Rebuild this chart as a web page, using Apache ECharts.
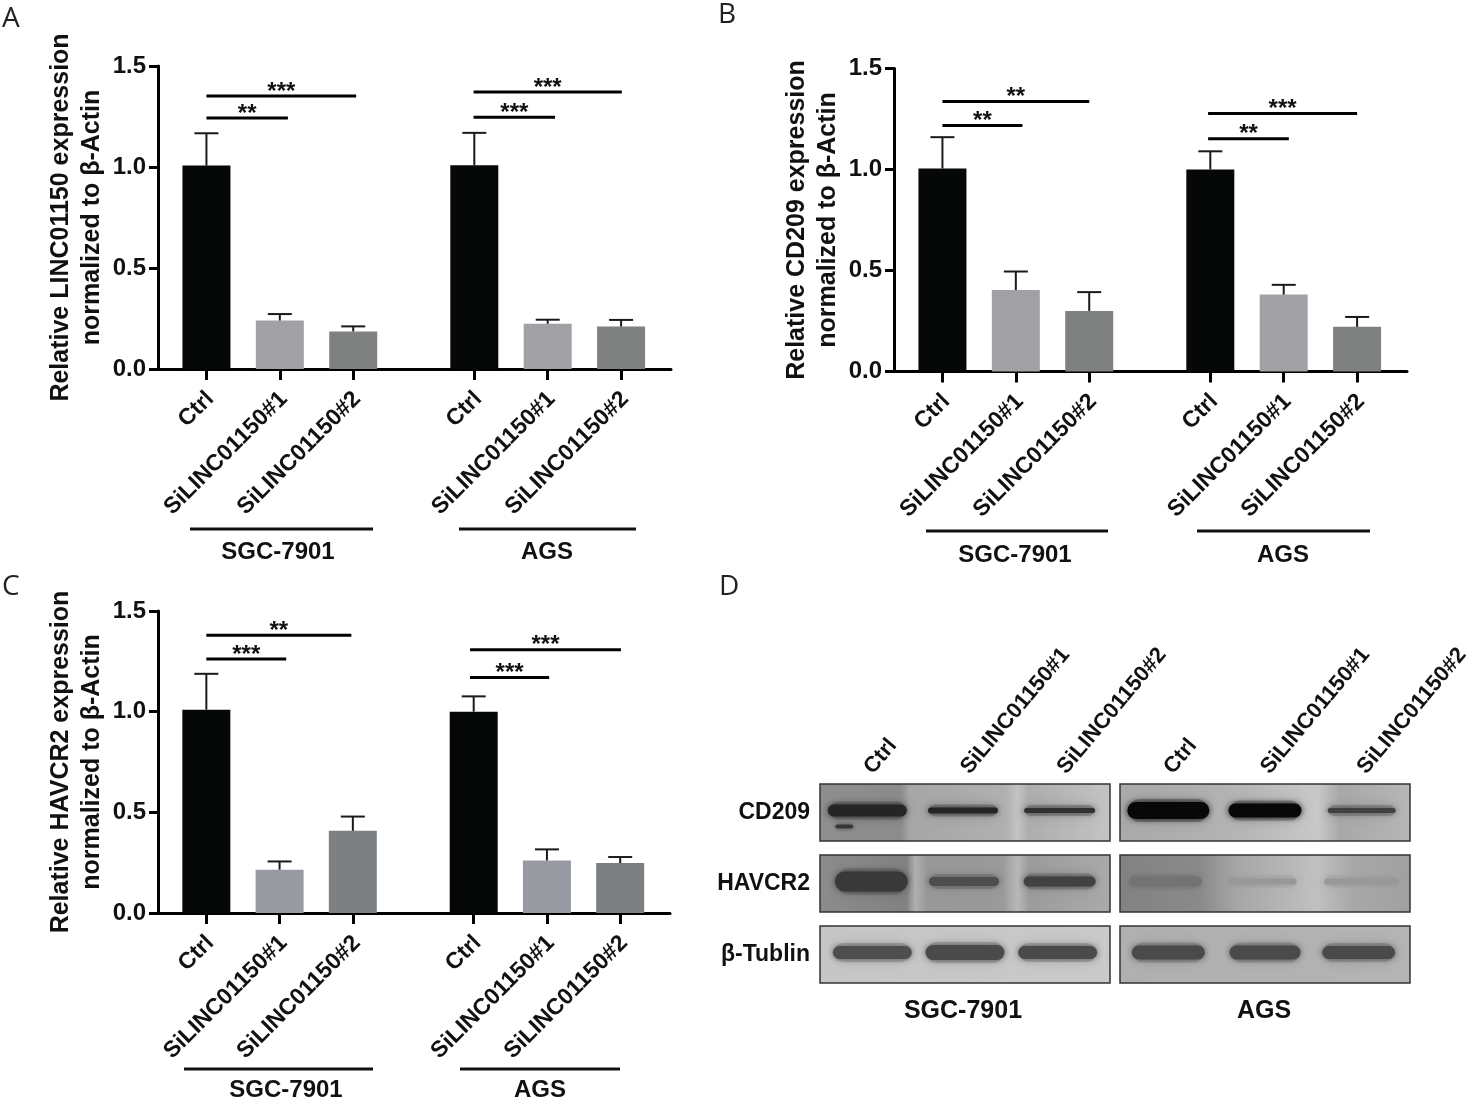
<!DOCTYPE html>
<html>
<head>
<meta charset="utf-8">
<title>LINC01150 knockdown</title>
<style>
  html, body { margin: 0; padding: 0; background: #fff; }
  #chart { width: 1468px; height: 1099px; }
</style>
<script src="https://cdn.jsdelivr.net/npm/echarts@6/dist/echarts.min.js"></script>
</head>
<body>
<div id="chart"></div>
<script>
// data
const barLabels = ['Ctrl', 'SiLINC01150#1', 'SiLINC01150#2', 'Ctrl', 'SiLINC01150#1', 'SiLINC01150#2']
const barSlots = [0, 1, 2, 3.65, 4.65, 5.65]
const yTicks = [0, 0.5, 1, 1.5]

const linc01150Mean = [1.007, 0.24, 0.186, 1.009, 0.224, 0.21]
const linc01150Upper = [1.167, 0.272, 0.211, 1.169, 0.244, 0.243]
const cd209Mean = [1.005, 0.403, 0.3, 1.0, 0.381, 0.221]
const cd209Upper = [1.16, 0.495, 0.393, 1.09, 0.429, 0.27]
const havcr2Mean = [1.01, 0.215, 0.408, 1.0, 0.261, 0.248]
const havcr2Upper = [1.188, 0.256, 0.479, 1.076, 0.316, 0.278]

// from slot, to slot, height, stars
const linc01150Sig = [[0, 1.11, 1.243, '**'], [0, 2.04, 1.351, '***'], [3.64, 4.75, 1.246, '***'], [3.64, 5.66, 1.371, '***']]
const cd209Sig = [[0, 1.09, 1.218, '**'], [0, 2.0, 1.337, '**'], [3.62, 4.72, 1.152, '**'], [3.62, 5.65, 1.277, '***']]
const havcr2Sig = [[0, 1.09, 1.261, '***'], [0, 1.98, 1.38, '**'], [3.6, 4.68, 1.17, '***'], [3.6, 5.66, 1.307, '***']]

// western blot, band darkness 0..1 per lane
const blotLanes = ['Ctrl', 'SiLINC01150#1', 'SiLINC01150#2']
const cd209Sgc = [0.86, 0.86, 0.8]
const cd209Ags = [1, 1, 0.72]
const havcr2Sgc = [0.76, 0.66, 0.72]
const havcr2Ags = [0.48, 0.3, 0.3]
const tublinSgc = [0.66, 0.68, 0.68]
const tublinAgs = [0.68, 0.68, 0.68]

const FONT = '"Liberation Sans", Arial, sans-serif'
const X_MIN = -0.66
const X_MAX = 6.33

const panels = [
  { name: 'Relative LINC01150 expression\nnormalized to β-Actin', mean: linc01150Mean, upper: linc01150Upper, sig: linc01150Sig,
    left: 158, top: 66, width: 513, height: 303, colors: ['#060808', '#a1a0a4', '#7f8080'] },
  { name: 'Relative CD209 expression\nnormalized to β-Actin', mean: cd209Mean, upper: cd209Upper, sig: cd209Sig,
    left: 894, top: 68.5, width: 513, height: 303, colors: ['#060808', '#a1a0a4', '#7f8080'] },
  { name: 'Relative HAVCR2 expression\nnormalized to β-Actin', mean: havcr2Mean, upper: havcr2Upper, sig: havcr2Sig,
    left: 158, top: 611, width: 512, height: 302, colors: ['#060808', '#989aa2', '#7d8083'] }
]

const hStops = (list) => ({
  type: 'linear', x: 0, y: 0, x2: 1, y2: 0,
  colorStops: list.map(s => ({ offset: s[0], color: s[1] }))
})

const blots = [
  { row: 'CD209', values: cd209Sgc, left: 820, top: 784, width: 290, height: 57, widths: [81, 72, 73], thick: [12, 6, 5], shift: [-1, -2, -2], smudge: true, showRow: true, showLanes: true,
    bg: [[0, '#8f8f8f'], [0.28, '#8c8c8c'], [0.31, '#a6a6a6'], [0.64, '#b0b0b0'], [0.68, '#c2c2c2'], [0.72, '#adadad'], [1, '#c4c4c4']] },
  { row: 'HAVCR2', values: havcr2Sgc, left: 820, top: 855, width: 290, height: 57, widths: [75, 72, 74], thick: [20, 9, 10], shift: [3, -1, -2], showRow: true,
    bg: [[0, '#8c8c8c'], [0.3, '#828282'], [0.33, '#b0b0b0'], [0.37, '#989898'], [0.63, '#9a9a9a'], [0.68, '#b8b8b8'], [0.72, '#9c9c9c'], [1, '#aaaaaa']] },
  { row: 'β-Tublin', values: tublinSgc, left: 820, top: 926, width: 290, height: 57, widths: [81, 81, 81], thick: [13, 15, 13], shift: [4, 0, -4], showRow: true,
    bg: [[0, '#c6c6c6'], [1, '#cacaca']] },
  { row: 'CD209', values: cd209Ags, left: 1120, top: 784, width: 290, height: 57, widths: [84, 75, 70], thick: [17, 14, 5], shift: [0, 0, 0], showLanes: true,
    bg: [[0, '#aaaaaa'], [0.35, '#b2b2b2'], [0.68, '#c8c8c8'], [0.76, '#a8a8a8'], [1, '#b6b6b6']] },
  { row: 'HAVCR2', values: havcr2Ags, left: 1120, top: 855, width: 290, height: 57, widths: [75, 71, 77], thick: [10, 6, 6], shift: [-3, -3, 0],
    bg: [[0, '#828282'], [0.28, '#8a8a8a'], [0.4, '#a6a6a6'], [0.68, '#c0c0c0'], [0.8, '#a8a8a8'], [1, '#a0a0a0']] },
  { row: 'β-Tublin', values: tublinAgs, left: 1120, top: 926, width: 290, height: 57, widths: [75, 73, 75], thick: [14, 14, 13], shift: [0, 0, -3],
    bg: [[0, '#b0b0b0'], [1, '#b4b4b4']] }
]

// straight lines and group names sitting below the axes
const groupLines = [
  [190, 373, 529], [459, 636, 529],
  [926, 1108, 531], [1197, 1370, 531],
  [184, 373, 1069], [460, 620, 1069]
]
const groupNames = [
  ['SGC-7901', 278, 552, 24], ['AGS', 547, 552, 24],
  ['SGC-7901', 1015, 555, 24], ['AGS', 1283, 555, 24],
  ['SGC-7901', 286, 1090, 24], ['AGS', 540, 1090, 24],
  ['SGC-7901', 963, 1011, 25], ['AGS', 1264, 1011, 25]
]
const panelLetters = [['A', 2, 19], ['B', 718, 15], ['C', 2, 587], ['D', 719, 587]]

const grid = []
const xAxis = []
const yAxis = []
const series = []

panels.forEach((p, i) => {
  grid.push({ left: p.left, top: p.top, width: p.width, height: p.height, outerBoundsMode: 'none' })
  xAxis.push({
    type: 'value', gridIndex: i, min: X_MIN, max: X_MAX, splitLine: { show: false },
    axisLine: { onZero: false, lineStyle: { color: '#000', width: 3 } },
    axisTick: { customValues: barSlots, length: 11, lineStyle: { color: '#000', width: 3 } },
    axisLabel: {
      customValues: barSlots, rotate: 45, margin: 14, align: 'right', verticalAlign: 'top', padding: [0, 6, 0, 0],
      fontFamily: FONT, fontWeight: 'bold', fontSize: 23, color: '#111',
      formatter: v => barLabels[barSlots.indexOf(v)] || ''
    }
  })
  yAxis.push({
    type: 'value', gridIndex: i, min: yTicks[0], max: yTicks[yTicks.length - 1], interval: 0.5,
    splitLine: { show: false },
    axisLine: { show: true, onZero: false, lineStyle: { color: '#000', width: 3 } },
    axisTick: { show: true, length: 9, lineStyle: { color: '#000', width: 3 } },
    axisLabel: { margin: 12, padding: [3, 0, 0, 0], fontFamily: FONT, fontWeight: 'bold', fontSize: 24, color: '#111', formatter: v => v.toFixed(1) },
    name: p.name, nameLocation: 'middle', nameGap: 50, nameRotate: 90,
    nameTextStyle: { fontFamily: FONT, fontWeight: 'bold', fontSize: 25, lineHeight: 31, color: '#111' }
  })
  series.push({
    type: 'bar', xAxisIndex: i, yAxisIndex: i, barWidth: 48, z: 1,
    data: p.mean.map((v, k) => ({ value: [barSlots[k], v], itemStyle: { color: p.colors[k % 3] } }))
  })
  // upper error bars
  series.push({
    type: 'custom', xAxisIndex: i, yAxisIndex: i, z: 2, silent: true,
    data: p.upper.map((v, k) => [barSlots[k], p.mean[k], v]),
    renderItem(params, api) {
      const base = api.coord([api.value(0), api.value(1)])
      const top = api.coord([api.value(0), api.value(2)])
      const style = { stroke: '#1a1a1a', lineWidth: 2 }
      return {
        type: 'group',
        children: [
          { type: 'line', shape: { x1: base[0], y1: base[1], x2: top[0], y2: top[1] }, style },
          { type: 'line', shape: { x1: top[0] - 12, y1: top[1], x2: top[0] + 12, y2: top[1] }, style }
        ]
      }
    }
  })
  // significance bars
  series.push({
    type: 'custom', xAxisIndex: i, yAxisIndex: i, z: 3, silent: true,
    data: p.sig.map(s => [s[0], s[1], s[2]]),
    renderItem(params, api) {
      const a = api.coord([api.value(0), api.value(2)])
      const b = api.coord([api.value(1), api.value(2)])
      return {
        type: 'group',
        children: [
          { type: 'line', shape: { x1: a[0], y1: a[1], x2: b[0], y2: b[1] }, style: { stroke: '#000', lineWidth: 3 } },
          { type: 'text', style: {
            x: (a[0] + b[0]) / 2, y: a[1] - 16, text: p.sig[params.dataIndex][3], align: 'center', verticalAlign: 'top',
            font: 'bold 24px ' + FONT, fill: '#111' } }
        ]
      }
    }
  })
})

blots.forEach((b, n) => {
  const i = panels.length + n
  grid.push({
    left: b.left, top: b.top, width: b.width, height: b.height, show: true, outerBoundsMode: 'none',
    backgroundColor: hStops(b.bg), borderColor: '#333', borderWidth: 1.5
  })
  xAxis.push({
    type: 'category', gridIndex: i, data: blotLanes, position: 'top',
    axisLine: { show: false }, axisTick: { show: false },
    axisLabel: {
      show: !!b.showLanes, interval: 0, rotate: -50, margin: 13,
      fontFamily: FONT, fontWeight: 'bold', fontSize: 22, color: '#111'
    }
  })
  yAxis.push({
    type: 'category', gridIndex: i, data: [b.row],
    axisLine: { show: false }, axisTick: { show: false },
    axisLabel: { show: !!b.showRow, margin: 10, fontFamily: FONT, fontWeight: 'bold', fontSize: 23, color: '#111' }
  })
  series.push({
    type: 'custom', xAxisIndex: i, yAxisIndex: i, silent: true,
    data: b.values.map((v, k) => [k, 0, v]),
    renderItem(params, api) {
      const k = params.dataIndex
      const c = api.coord([api.value(0), api.value(1)])
      const g = Math.round(205 * (1 - api.value(2)) + 8)
      const w = b.widths[k]
      const h = b.thick[k]
      const x = c[0] + b.shift[k]
      const y = c[1] - 2
      const children = [
        { type: 'rect', shape: { x: x - w / 2 + 2, y: y - h / 2 - 3, width: w - 4, height: h + 6, r: (h + 6) / 2 },
          style: { fill: `rgba(${g},${g},${g},0.25)`, shadowBlur: 16, shadowColor: `rgba(${g},${g},${g},0.6)` } },
        { type: 'rect', shape: { x: x - w / 2 + 1, y: y - h / 2, width: w - 2, height: h, r: h / 2 },
          style: { fill: `rgb(${g},${g},${g})`, shadowBlur: 6, shadowColor: `rgba(${g},${g},${g},0.8)` } }
      ]
      if (b.smudge && k === 0) {
        children.push({ type: 'rect', shape: { x: x - 32, y: y + 14, width: 18, height: 4, r: 2 },
          style: { fill: 'rgba(40,40,40,0.8)', shadowBlur: 5, shadowColor: 'rgba(40,40,40,0.8)' } })
      }
      return { type: 'group', children }
    }
  })
})

const graphic = []
groupLines.forEach(l => {
  graphic.push({ type: 'line', shape: { x1: l[0], y1: l[2], x2: l[1], y2: l[2] }, style: { stroke: '#111', lineWidth: 3 } })
})
groupNames.forEach(t => {
  graphic.push({ type: 'text', x: t[1], y: t[2], style: {
    text: t[0], font: `bold ${t[3]}px ${FONT}`, fill: '#111', align: 'center', verticalAlign: 'middle' } })
})
panelLetters.forEach(t => {
  graphic.push({ type: 'text', x: t[1], y: t[2], style: {
    text: t[0], font: '28px "Open Sans"', fill: '#222', align: 'left', verticalAlign: 'middle' } })
})

const myChart = echarts.init(document.getElementById('chart'), null, { renderer: 'canvas' })
myChart.setOption({
  animation: false,
  backgroundColor: '#fff',
  grid, xAxis, yAxis, series, graphic
})
</script>
</body>
</html>
